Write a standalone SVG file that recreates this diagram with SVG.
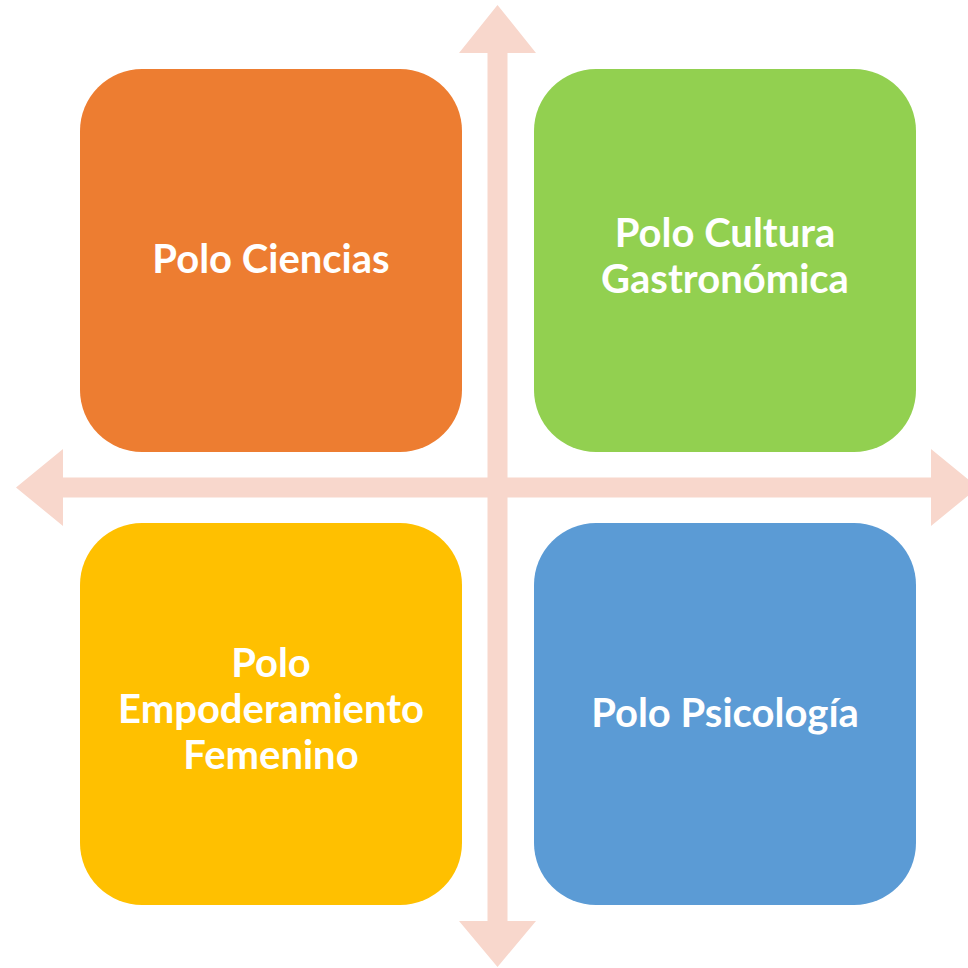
<svg xmlns="http://www.w3.org/2000/svg" width="968" height="968" viewBox="0 0 968 968">
<style>
.box{stroke:none}
.lbl{font-family:Lato,"Open Sans","Liberation Sans",sans-serif;font-weight:bold;font-size:40px;fill:#FFFFFF;text-anchor:middle}
.arrow{fill:#F8D7CC;stroke:none}
</style>
<rect width="968" height="968" fill="#FFFFFF"/>
<g id="connectors">
<path class="arrow" d="M497.5,5 L536,53 L507.5,53 L507.5,921 L536,921 L497.5,967 L459,921 L487.5,921 L487.5,53 L459,53 Z"/>
<path class="arrow" d="M16,487.5 L63,449 L63,477.5 L931,477.5 L931,449 L978,487.5 L931,526 L931,497.5 L63,497.5 L63,526 Z"/>
</g>
<g id="node-ciencias">
<rect class="box" x="80" y="69" width="382" height="383" rx="62" fill="#ED7D31"/>
<text class="lbl" x="271" y="273">Polo Ciencias</text>
</g>
<g id="node-cultura">
<rect class="box" x="534" y="69" width="382" height="383" rx="62" fill="#92D050"/>
<text class="lbl" x="725" y="247">Polo Cultura</text>
<text class="lbl" x="725" y="293">Gastronómica</text>
</g>
<g id="node-empoderamiento">
<rect class="box" x="80" y="523" width="382" height="382" rx="62" fill="#FFC000"/>
<text class="lbl" x="271" y="677">Polo</text>
<text class="lbl" x="271" y="722.5">Empoderamiento</text>
<text class="lbl" x="271" y="768.5">Femenino</text>
</g>
<g id="node-psicologia">
<rect class="box" x="534" y="523" width="382" height="382" rx="62" fill="#5B9BD5"/>
<text class="lbl" x="725" y="726.5">Polo Psicología</text>
</g>
</svg>
